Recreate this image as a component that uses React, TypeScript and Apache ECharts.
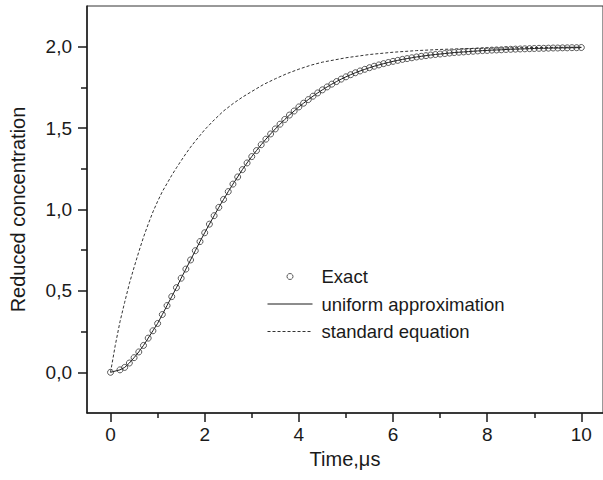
import React, { useEffect, useRef } from 'react';
import * as echarts from 'echarts';

// Time samples of the "Exact" points (µs)
const timeExact = [
  0, 0.2, 0.3, 0.4, 0.5, 0.6, 0.7, 0.8, 0.9, 1.0,
  1.1, 1.2, 1.3, 1.4, 1.5, 1.6, 1.7, 1.8, 1.9, 2.0,
  2.1, 2.2, 2.3, 2.4, 2.5, 2.6, 2.7, 2.8, 2.9, 3.0,
  3.1, 3.2, 3.3, 3.4, 3.5, 3.6, 3.7, 3.8, 3.9, 4.0,
  4.1, 4.2, 4.3, 4.4, 4.5, 4.6, 4.7, 4.8, 4.9, 5.0,
  5.1, 5.2, 5.3, 5.4, 5.5, 5.6, 5.7, 5.8, 5.9, 6.0,
  6.1, 6.2, 6.3, 6.4, 6.5, 6.6, 6.7, 6.8, 6.9, 7.0,
  7.1, 7.2, 7.3, 7.4, 7.5, 7.6, 7.7, 7.8, 7.9, 8.0,
  8.1, 8.2, 8.3, 8.4, 8.5, 8.6, 8.7, 8.8, 8.9, 9.0,
  9.1, 9.2, 9.3, 9.4, 9.5, 9.6, 9.7, 9.8, 9.9, 10.0,
];

// Exact reduced concentration
const exactValues = [
  0, 0.015, 0.03, 0.057, 0.09, 0.125, 0.165, 0.21, 0.255, 0.3,
  0.355, 0.41, 0.465, 0.52, 0.578, 0.634, 0.69, 0.747, 0.803, 0.857,
  0.91, 0.962, 1.013, 1.062, 1.11, 1.156, 1.2, 1.245, 1.286, 1.325,
  1.362, 1.398, 1.432, 1.464, 1.495, 1.524, 1.553, 1.58, 1.605, 1.63,
  1.653, 1.675, 1.696, 1.716, 1.735, 1.753, 1.77, 1.786, 1.801, 1.815,
  1.828, 1.84, 1.851, 1.861, 1.871, 1.88, 1.888, 1.896, 1.903, 1.91,
  1.916, 1.922, 1.927, 1.932, 1.937, 1.941, 1.945, 1.949, 1.952, 1.955,
  1.958, 1.961, 1.964, 1.966, 1.968, 1.97, 1.972, 1.974, 1.976, 1.977,
  1.979, 1.98, 1.981, 1.983, 1.984, 1.985, 1.986, 1.987, 1.988, 1.989,
  1.99, 1.99, 1.991, 1.992, 1.992, 1.993, 1.993, 1.994, 1.994, 1.995,
];

// Uniform approximation (coincides with the exact curve)
const uniformValues = [
  0, 0.015, 0.03, 0.057, 0.09, 0.125, 0.165, 0.21, 0.255, 0.3,
  0.355, 0.41, 0.465, 0.52, 0.578, 0.634, 0.69, 0.747, 0.803, 0.857,
  0.91, 0.962, 1.013, 1.062, 1.11, 1.156, 1.2, 1.245, 1.286, 1.325,
  1.362, 1.398, 1.432, 1.464, 1.495, 1.524, 1.553, 1.58, 1.605, 1.63,
  1.653, 1.675, 1.696, 1.716, 1.735, 1.753, 1.77, 1.786, 1.801, 1.815,
  1.828, 1.84, 1.851, 1.861, 1.871, 1.88, 1.888, 1.896, 1.903, 1.91,
  1.916, 1.922, 1.927, 1.932, 1.937, 1.941, 1.945, 1.949, 1.952, 1.955,
  1.958, 1.961, 1.964, 1.966, 1.968, 1.97, 1.972, 1.974, 1.976, 1.977,
  1.979, 1.98, 1.981, 1.983, 1.984, 1.985, 1.986, 1.987, 1.988, 1.989,
  1.99, 1.99, 1.991, 1.992, 1.992, 1.993, 1.993, 1.994, 1.994, 1.995,
];

// Standard equation
const timeStandard = [
  0, 0.1, 0.2, 0.3, 0.4, 0.5, 0.6, 0.7, 0.8, 0.9,
  1.0, 1.1, 1.2, 1.3, 1.4, 1.5, 1.6, 1.7, 1.8, 1.9,
  2.0, 2.2, 2.4, 2.6, 2.8, 3.0, 3.25, 3.5, 3.75, 4.0,
  4.25, 4.5, 5.0, 5.5, 6.0, 6.5, 7.0, 7.5, 8.0, 8.5, 9.0, 10.0,
];
const standardValues = [
  0, 0.165, 0.31, 0.43, 0.545, 0.645, 0.74, 0.83, 0.91, 0.985,
  1.05, 1.11, 1.16, 1.21, 1.256, 1.3, 1.343, 1.383, 1.42, 1.455,
  1.49, 1.55, 1.605, 1.65, 1.69, 1.725, 1.768, 1.803, 1.835, 1.862,
  1.886, 1.905, 1.932, 1.952, 1.966, 1.976, 1.983, 1.988, 1.991, 1.993, 1.995, 1.997,
];

const xMajorTicks = [0, 2, 4, 6, 8, 10];
const xMinorTicks = [1, 3, 5, 7, 9];
const yMajorTicks = [0, 0.5, 1, 1.5, 2];
const yMinorTicks = [0.25, 0.75, 1.25, 1.75];

export default function App() {
  const ref = useRef<HTMLDivElement>(null);

  useEffect(() => {
    if (!ref.current) return;
    const chart = echarts.init(ref.current, null, { renderer: 'svg' });
    const font = "'Liberation Sans', Arial, Helvetica, sans-serif";
    const ink = '#1a1a1a';
    const fs = 18.5;
    const tickFs = 19;
    const nameFs = 20;
    const zip = (xs: number[], ys: number[]) => xs.map((x, i) => [x, ys[i]]);
    const axisLineStyle = { color: ink, width: 1.5 };
    const xMin = -0.5;
    const xMax = 10.46;
    const yMin = -0.25;
    const yMax = 2.25;
    const noSymbol = { color: 'transparent', borderColor: 'transparent', borderWidth: 0, opacity: 0 };

    chart.setOption({
      animation: false,
      backgroundColor: '#ffffff',
      textStyle: { fontFamily: font },
      grid: {
        left: 86,
        top: 6,
        right: -5,
        bottom: 67,
        show: true,
        borderColor: '#333',
        borderWidth: 1,
        backgroundColor: 'transparent',
      },
      xAxis: [
        {
          type: 'value',
          min: xMin,
          max: xMax,
          name: 'Time,\u03bcs',
          nameLocation: 'middle',
          nameGap: 30,
          nameTextStyle: { fontSize: nameFs, color: ink, fontFamily: font },
          axisLine: { show: true, onZero: false, lineStyle: axisLineStyle },
          axisTick: { show: true, inside: false, length: 9, customValues: xMajorTicks, lineStyle: axisLineStyle },
          axisLabel: {
            show: true,
            customValues: xMajorTicks,
            fontSize: tickFs,
            color: ink,
            margin: 12,
            fontFamily: font,
            formatter: (v: number) => String(v),
          },
          splitLine: { show: false },
        },
        {
          type: 'value',
          min: xMin,
          max: xMax,
          position: 'bottom',
          axisLine: { show: false, onZero: false },
          axisTick: { show: true, inside: false, length: 5, customValues: xMinorTicks, lineStyle: axisLineStyle },
          axisLabel: { show: false },
          splitLine: { show: false },
        },
      ],
      yAxis: [
        {
          type: 'value',
          min: yMin,
          max: yMax,
          name: 'Reduced concentration',
          nameLocation: 'middle',
          nameGap: 59,
          nameTextStyle: { fontSize: nameFs, color: ink, fontFamily: font },
          axisLine: { show: true, onZero: false, lineStyle: axisLineStyle },
          axisTick: { show: true, inside: false, length: 9, customValues: yMajorTicks, lineStyle: axisLineStyle },
          axisLabel: {
            show: true,
            customValues: yMajorTicks,
            fontSize: tickFs,
            color: ink,
            margin: 15,
            fontFamily: font,
            formatter: (v: number) => v.toFixed(1).replace('.', ','),
          },
          splitLine: { show: false },
        },
        {
          type: 'value',
          min: yMin,
          max: yMax,
          position: 'left',
          axisLine: { show: false, onZero: false },
          axisTick: { show: true, inside: false, length: 6, customValues: yMinorTicks, lineStyle: axisLineStyle },
          axisLabel: { show: false },
          splitLine: { show: false },
        },
      ],
      legend: {
        orient: 'vertical',
        left: 267,
        top: 267,
        padding: 0,
        itemWidth: 45,
        itemHeight: 6,
        itemGap: 8.5,
        selectedMode: false,
        textStyle: { fontSize: fs, color: ink, fontFamily: font, lineHeight: 18, padding: [0, 0, 0, 4] },
        data: [
          {
            name: 'Exact',
            icon: 'circle',
            itemStyle: { color: 'transparent', borderColor: '#333', borderWidth: 1 },
          },
          {
            name: 'uniform approximation',
            itemStyle: noSymbol,
            lineStyle: { color: ink, width: 1, type: 'solid' },
          },
          {
            name: 'standard equation',
            itemStyle: noSymbol,
            lineStyle: { color: '#333', width: 1, type: [3, 2] },
          },
        ],
      },
      series: [
        {
          name: 'standard equation',
          type: 'line',
          data: zip(timeStandard, standardValues),
          symbol: 'none',
          smooth: false,
          lineStyle: { color: '#333', width: 1, type: [3, 2] },
          itemStyle: { color: '#333' },
          z: 2,
        },
        {
          name: 'uniform approximation',
          type: 'line',
          data: zip(timeExact, uniformValues),
          symbol: 'none',
          lineStyle: { color: ink, width: 1 },
          itemStyle: { color: ink },
          z: 3,
        },
        {
          name: 'Exact',
          type: 'scatter',
          data: zip(timeExact, exactValues),
          symbol: 'circle',
          symbolSize: 6,
          itemStyle: { color: 'transparent', borderColor: '#333', borderWidth: 1 },
          z: 4,
        },
      ],
    });

    return () => {
      chart.dispose();
    };
  }, []);

  return (
    <div
      ref={ref}
      style={{ position: 'fixed', left: 0, top: 0, width: 603, height: 480, background: '#fff' }}
    />
  );
}
